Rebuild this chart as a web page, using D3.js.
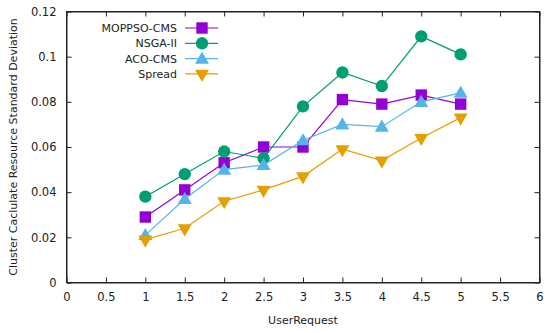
<!DOCTYPE html>
<html>
<head>
<meta charset="utf-8">
<script src="https://cdn.jsdelivr.net/npm/d3@7"></script>
<style>
  body { margin: 0; background: #fff; }
  text { font-family: "DejaVu Sans", sans-serif; font-size: 11px; fill: #222; }
</style>
</head>
<body>
<svg id="chart" width="550" height="333"></svg>
<script>
  // data
  const requests = [1, 1.5, 2, 2.5, 3, 3.5, 4, 4.5, 5];
  const moppso = [0.029, 0.041, 0.053, 0.060, 0.060, 0.081, 0.079, 0.083, 0.079];
  const nsga = [0.038, 0.048, 0.058, 0.055, 0.078, 0.093, 0.087, 0.109, 0.101];
  const aco = [0.021, 0.037, 0.050, 0.052, 0.063, 0.070, 0.069, 0.080, 0.084];
  const spread = [0.019, 0.024, 0.036, 0.041, 0.047, 0.059, 0.054, 0.064, 0.073];
  const xTicks = [0, 0.5, 1, 1.5, 2, 2.5, 3, 3.5, 4, 4.5, 5, 5.5, 6];
  const yTicks = [0, 0.02, 0.04, 0.06, 0.08, 0.1, 0.12];

  const series = [
    { name: 'MOPPSO-CMS', values: moppso, color: '#9400d3', symbol: 'square' },
    { name: 'NSGA-II', values: nsga, color: '#009e73', symbol: 'circle' },
    { name: 'ACO-CMS', values: aco, color: '#56b4e9', symbol: 'up' },
    { name: 'Spread', values: spread, color: '#e69f00', symbol: 'down' }
  ];

  const margin = { left: 66.5, right: 539.5, top: 11.5, bottom: 282.5 };
  const svg = d3.select('#chart');

  const x = d3.scaleLinear().domain([0, 6]).range([margin.left, margin.right]);
  const y = d3.scaleLinear().domain([0, 0.12]).range([margin.bottom, margin.top]);

  const fmt = d => d3.format('~g')(d);

  // axes with inward ticks, mirrored on top and right
  svg.append('g')
    .attr('transform', `translate(0,${margin.bottom})`)
    .call(d3.axisBottom(x).tickValues(xTicks).tickSizeInner(-5).tickSizeOuter(0).tickPadding(10).tickFormat(fmt));
  svg.append('g')
    .attr('transform', `translate(0,${margin.top})`)
    .call(d3.axisTop(x).tickValues(xTicks).tickSizeInner(-5).tickSizeOuter(0).tickFormat(''));
  svg.append('g')
    .attr('transform', `translate(${margin.left},0)`)
    .call(d3.axisLeft(y).tickValues(yTicks).tickSizeInner(-5).tickSizeOuter(0).tickPadding(10).tickFormat(fmt));
  svg.append('g')
    .attr('transform', `translate(${margin.right},0)`)
    .call(d3.axisRight(y).tickValues(yTicks).tickSizeInner(-5).tickSizeOuter(0).tickFormat(''));

  svg.selectAll('.domain').attr('stroke', '#222');
  svg.selectAll('.tick line').attr('stroke', '#222');
  svg.selectAll('.tick text').style('font-size', '11.5px').attr('fill', '#222');

  // frame
  svg.append('rect')
    .attr('x', margin.left).attr('y', margin.top)
    .attr('width', margin.right - margin.left)
    .attr('height', margin.bottom - margin.top)
    .attr('fill', 'none').attr('stroke', '#222');

  // axis titles
  svg.append('text')
    .attr('x', (margin.left + margin.right) / 2)
    .attr('y', 324)
    .attr('text-anchor', 'middle')
    .text('UserRequest');
  svg.append('text')
    .attr('transform', `translate(17,${(margin.top + margin.bottom) / 2}) rotate(-90)`)
    .attr('text-anchor', 'middle')
    .text('Cluster Caclulate Resource Standard Deviation');

  const symbols = {
    square: d3.symbol().type(d3.symbolSquare).size(130),
    circle: d3.symbol().type(d3.symbolCircle).size(120),
    up: d3.symbol().type(d3.symbolTriangle).size(85),
    down: d3.symbol().type(d3.symbolTriangle).size(85)
  };

  function drawMarker(sel, s) {
    sel.append('path')
      .attr('d', symbols[s.symbol]())
      .attr('fill', s.color)
      .attr('transform', s.symbol === 'down' ? 'rotate(180)' : (s.symbol === 'up' ? 'translate(0,1)' : null));
  }

  const line = d3.line().x(d => x(d[0])).y(d => y(d[1]));

  series.forEach(s => {
    const pts = requests.map((r, i) => [r, s.values[i]]);
    svg.append('path')
      .datum(pts)
      .attr('d', line)
      .attr('fill', 'none')
      .attr('stroke', s.color)
      .attr('stroke-width', 1.2);
    const g = svg.append('g').selectAll('g')
      .data(pts).enter().append('g')
      .attr('transform', d => `translate(${x(d[0])},${y(d[1])})`);
    drawMarker(g, s);
  });

  // legend
  const legend = svg.append('g');
  series.forEach((s, i) => {
    const ly = 28 + i * 15.3;
    legend.append('text')
      .attr('x', 177).attr('y', ly + 4)
      .attr('text-anchor', 'end')
      .text(s.name);
    legend.append('line')
      .attr('x1', 185).attr('x2', 218)
      .attr('y1', ly).attr('y2', ly)
      .attr('stroke', s.color).attr('stroke-width', 1.2);
    const mg = legend.append('g').attr('transform', `translate(202,${ly})`);
    drawMarker(mg, s);
  });
</script>
</body>
</html>
